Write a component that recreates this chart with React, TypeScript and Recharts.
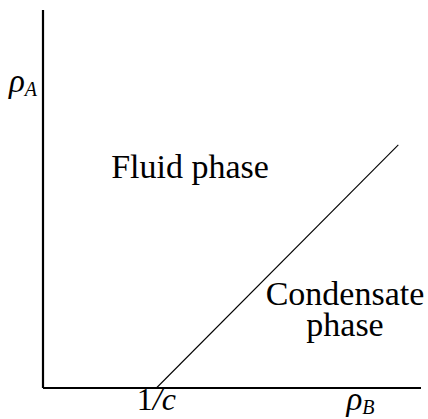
import { LineChart, Line, XAxis, YAxis, ReferenceDot } from 'recharts';

// phase boundary, in units of the axes (0..1)
const boundaryRhoB = [0.3, 0.94];
const boundaryRhoA = [0, 0.643];

const xTickValues = [0.3, 0.84];
const xTickLabels = ['1/c', 'ρ_B'];
const yTickValues = [0.788];
const yTickLabels = ['ρ_A'];

const data = boundaryRhoB.map((rhoB, i) => ({ rhoB, rhoA: boundaryRhoA[i] }));

const FONT = '"Liberation Serif", "Times New Roman", serif';

function MathText({ x, y, label, anchor }: { x: number; y: number; label: string; anchor: string }) {
  if (label.includes('_')) {
    const [base, sub] = label.split('_');
    return (
      <text x={x} y={y} textAnchor={anchor} fontFamily={FONT} fontSize={33} fill="#000">
        <tspan fontStyle="italic">{base}</tspan>
        <tspan fontStyle="italic" fontSize={20} dy={4}>{sub}</tspan>
      </text>
    );
  }
  const [num, den] = label.split('/');
  return (
    <text x={x} y={y} textAnchor={anchor} fontFamily={FONT} fontSize={32} fill="#000">
      {num}
      <tspan fontStyle="italic">/{den}</tspan>
    </text>
  );
}

const XTick = (props: any) => {
  const i = xTickValues.indexOf(props.payload.value);
  return <MathText x={props.x} y={props.y + 16} label={xTickLabels[i]} anchor="middle" />;
};

const YTick = (props: any) => {
  const i = yTickValues.indexOf(props.payload.value);
  return <MathText x={props.x} y={props.y + 2} label={yTickLabels[i]} anchor="end" />;
};

const regionLabel = (text: string) => (props: any) => (
  <text x={props.cx} y={props.cy} textAnchor="middle" fontFamily={FONT} fontSize={34} fill="#000">
    {text}
  </text>
);

export default function App() {
  return (
    <div style={{ position: 'absolute', left: 0, top: 0, width: 428, height: 419, background: '#fff' }}>
      <LineChart width={428} height={419} data={data} margin={{ top: 10, right: 7, left: 0, bottom: 0 }}>
        <XAxis
          dataKey="rhoB"
          type="number"
          domain={[0, 1]}
          ticks={xTickValues}
          tick={<XTick />}
          tickLine={false}
          tickMargin={0}
          axisLine={{ stroke: '#000', strokeWidth: 2.2 }}
          height={31}
          interval={0}
        />
        <YAxis
          type="number"
          domain={[0, 1]}
          ticks={yTickValues}
          tick={<YTick />}
          tickLine={false}
          tickMargin={0}
          axisLine={{ stroke: '#000', strokeWidth: 2.2 }}
          width={43}
          interval={0}
        />
        <Line
          type="linear"
          dataKey="rhoA"
          stroke="#000"
          strokeWidth={1.1}
          dot={false}
          isAnimationActive={false}
        />
        <ReferenceDot x={0.389} y={0.556} r={0} shape={regionLabel('Fluid phase')} />
        <ReferenceDot x={0.799} y={0.22} r={0} shape={regionLabel('Condensate')} />
        <ReferenceDot x={0.799} y={0.138} r={0} shape={regionLabel('phase')} />
      </LineChart>
    </div>
  );
}
